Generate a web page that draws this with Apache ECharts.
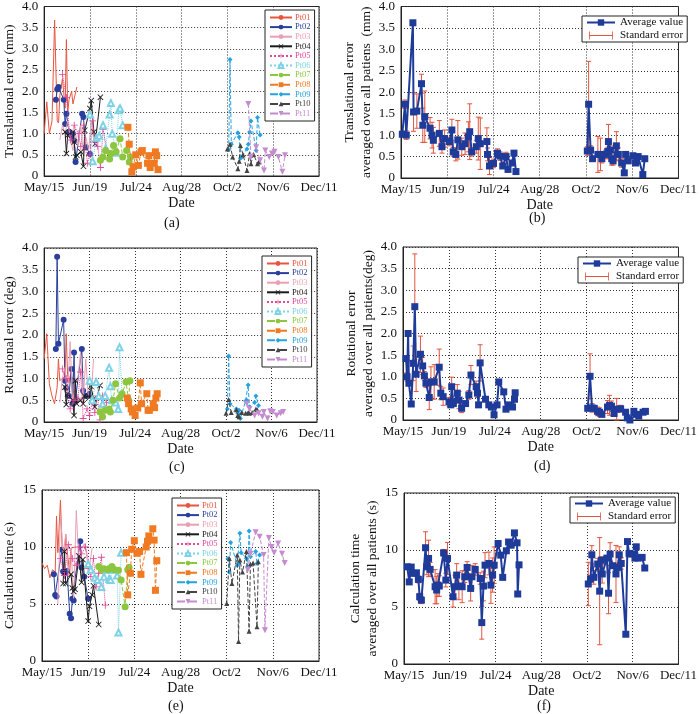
<!DOCTYPE html>
<html><head><meta charset="utf-8">
<script src="https://cdn.jsdelivr.net/npm/echarts/dist/echarts.min.js"></script>
<style>html,body{margin:0;padding:0;background:#fff}#c{width:700px;height:714px}</style>
</head><body><div id="c"></div>
<script>
const tickLabels = ['May/15','Jun/19','Jul/24','Aug/28','Oct/2','Nov/6','Dec/11'];
const ptNames = ['Pt01','Pt02','Pt03','Pt04','Pt05','Pt06','Pt07','Pt08','Pt09','Pt10','Pt11'];

// day offsets from May/15
const pt01Days = [0,2,4,6,8,10,11,12,14,16,17,18,19,21,22,25];
const pt01Trans = [1.0,1.75,1.0,1.3,3.68,1.3,1.25,1.9,2.3,1.6,3.22,1.5,1.8,2.0,1.7,2.1];
const pt01Rot = [1.45,2.03,0.88,0.6,0.42,0.8,1.45,0.95,1.0,1.05,2.03,1.1,0.9,1.2,0.6,1.0];
const pt01Time = [8.6,8.1,8.4,7.3,8.0,7.8,12.7,9.5,14.1,7.5,8.8,11.1,9.8,7.6,9.9,10.0];

const pt02Days = [9,10,11,15,16,17,19,21,22,23,24,29,30,32,35];
const pt02Trans = [1.8,2.05,2.1,1.8,1.23,1.47,1.04,0.95,1.0,0.84,0.33,1.47,1.39,0.68,0.52];
const pt02Rot = [1.68,3.8,1.8,2.35,0.95,0.78,0.6,1.22,0.42,1.6,0.5,1.68,0.72,0.6,0.65];
const pt02Time = [7.6,5.8,5.65,9.75,7.85,7.75,7.9,4.15,3.75,5.45,5.3,10.5,8.2,7.4,5.45];

const pt03Days = [12,14,16,18,20,22,24,26,28,30,32,34,36,38];
const pt03Trans = [0.85,1.2,1.0,1.3,0.9,0.6,1.0,0.7,1.2,0.5,0.9,0.6,1.3,0.8];
const pt03Rot = [0.45,1.0,1.25,0.6,1.85,0.4,0.9,1.0,1.6,0.45,1.45,0.6,0.5,1.45];
const pt03Time = [5.0,12.7,9.5,11.1,7.5,9.9,5.5,13.2,8.5,9.8,10.3,9.5,8.3,9.9];

const pt04Days = [16,17,18,22,23,24,25,28,30,31,35,36,38,39,43];
const pt04Trans = [1.04,0.53,0.96,1.04,0.8,0.45,0.49,0.57,0.23,1.08,1.59,1.78,1.04,0.76,1.86];
const pt04Rot = [0.8,0.4,0.65,0.5,0.15,0.95,0.42,0.5,0.42,0.6,0.57,0.82,0.53,0.35,0.84];
const pt04Time = [6.8,9.6,6.8,7.6,6.4,6.1,6.3,9.2,6.9,8.9,3.5,4.8,5.8,6.6,3.2];

const pt05Days = [14,17,20,23,26,28,30,33,35,37,39,41,43,45,48];
const pt05Trans = [2.4,1.85,0.85,1.2,1.0,0.7,1.2,0.3,0.5,1.3,0.8,0.7,0.2,1.1,0.6];
const pt05Rot = [1.22,1.0,0.3,0.5,0.55,1.15,0.08,0.3,0.15,0.45,0.22,0.6,0.05,0.6,0.45];
const pt05Time = [9.0,7.5,10.2,9.0,8.4,10.0,9.4,10.0,8.1,7.4,9.0,6.5,7.7,9.1,4.9];

const pt06Days = [35,37,40,42,45,47,50,51,52,55,57,58,60];
const pt06Trans = [1.45,0.35,0.9,0.95,1.2,0.65,1.45,1.72,1.0,0.55,1.55,1.6,1.2];
const pt06Rot = [0.95,0.5,0.92,0.6,0.42,0.6,1.25,0.82,0.5,0.45,0.3,1.72,0.65];
const pt06Time = [8.5,8.0,7.3,7.1,6.5,7.4,8.0,7.2,7.1,8.0,7.5,2.5,9.5];

const pt07Days = [43,45,47,50,51,53,55,58,60,63,65,66];
const pt07Trans = [0.37,0.45,0.6,0.4,0.53,0.72,0.57,0.88,0.45,0.6,0.33,0.45];
const pt07Rot = [0.23,0.12,0.27,0.3,0.23,0.5,0.88,0.55,0.65,0.92,0.5,0.95];
const pt07Time = [8.3,8.0,8.1,8.0,8.1,8.3,8.0,7.95,7.1,4.75,8.0,8.2];

const pt08Days = [64,65,67,68,70,72,74,75,79,80,81,84,85,86,87];
const pt08Trans = [1.15,0.75,0.1,0.22,0.5,0.25,0.57,0.6,0.3,0.48,0.2,0.3,0.57,0.48,0.15];
const pt08Rot = [0.55,0.42,0.3,0.23,0.15,0.32,0.9,0.42,0.65,0.27,0.27,0.42,0.33,0.55,0.65];
const pt08Time = [9.5,5.8,7.7,9.8,10.55,9.45,9.6,7.6,10.0,10.5,10.97,11.6,10.6,6.2,8.8];

const pt09Days = [141,142,143,148,149,150,151,155,156,157,158,162,163,165];
const pt09Trans = [0.62,2.75,0.75,1.02,0.92,0.42,0.45,0.64,0.75,1.04,1.3,0.6,1.38,0.97];
const pt09Rot = [0.3,1.52,0.42,0.3,0.2,0.27,0.08,0.48,0.5,0.85,0.35,0.45,0.6,0.38];
const pt09Time = [9.0,7.8,10.4,8.4,8.55,11.2,9.5,9.0,8.3,11.4,9.15,9.6,8.55,9.3];

const pt10Days = [140,142,144,148,149,150,152,155,157,158,160,163,164];
const pt10Trans = [0.64,0.75,0.45,0.17,0.35,0.72,0.5,0.13,0.53,0.29,0.51,0.29,0.33];
const pt10Rot = [0.2,0.52,0.22,0.28,0.15,0.12,0.22,0.2,0.22,0.2,0.22,0.3,0.28];
const pt10Time = [5.05,9.0,6.8,9.3,1.7,8.85,7.8,9.6,2.6,8.5,8.6,3.0,8.7];

const pt11Days = [156,158,162,165,168,169,172,174,176,179,182,184];
const pt11Trans = [1.7,0.45,0.68,0.37,0.13,0.6,0.45,0.53,0.57,0.45,0.1,0.49];
const pt11Rot = [0.42,0.3,0.15,0.2,0.12,0.23,0.08,0.25,0.23,0.15,0.2,0.23];
const pt11Time = [8.0,9.4,11.3,10.9,9.3,2.7,10.8,10.0,9.5,10.3,9.4,8.6];

// averages over all patients (two treatment periods)
const avgTransDays1 = [1,3,4,9,9.5,12,15.5,16.5,18,22,23.5,24.5,29,31,33,36.5,38.5,39.5,41.5,43,46,48.5,51,52,53.5,57,58.5,60,65,65.5,67,70,73,75,77,79.5,81,84,85.5,87];
const avgTrans1 = [1.02,1.72,1.0,3.62,1.54,1.56,2.2,1.23,1.43,1.16,1.0,0.88,1.04,0.73,0.92,0.85,1.12,0.61,0.55,0.89,0.73,0.8,0.96,1.08,0.61,0.73,0.92,0.8,0.85,0.55,0.28,0.34,0.58,0.51,0.28,0.5,0.2,0.35,0.58,0.15];
const seTrans1 = [0.05,0.1,0.1,0.05,0.45,0.4,0.22,0.4,0.6,0.25,0.3,0.3,0.3,0.15,0.2,0.1,0.25,0.1,0.15,0.45,0.2,0.25,0.35,0.65,0.1,0.15,0.5,0.6,0.32,0.15,0.2,0.1,0.1,0.1,0.05,0.1,0.05,0.05,0.05,0.05];
const avgTransDays2 = [141,142,143.5,145,149,151,152,155,156.5,157,158.5,159.5,160.5,163,164.5,167,169,170,172,175.5,177.5,179.5,183,184.5];
const avgTrans2 = [0.63,1.72,0.65,0.45,0.55,0.55,0.45,0.55,0.62,0.85,0.65,0.45,0.4,0.75,0.55,0.35,0.12,0.55,0.4,0.52,0.35,0.5,0.08,0.45];
const seTrans2 = [0.1,1.0,0.1,0.05,0.42,0.38,0.1,0.1,0.1,0.4,0.1,0.15,0.1,0.33,0.15,0.1,0.05,0.05,0.05,0.05,0.05,0.05,0.05,0.05];

const avgRotDays1 = [2.3,3.1,3.9,4.5,6.3,7.8,9,10,13.3,15,16.3,17.5,20,21.3,23.8,27.6,28.8,30.6,35.1,36.4,37.1,38.4,41.4,42.7,44.7,47.7,50.2,51.8,55.8,56.8,57.6,58.8,62.9,65.4,67.4,69.4,71.7,73,76.8,78.5,81,83.5,85,85.5];
const avgRot1 = [1.42,1.0,2.0,0.85,0.37,1.31,2.62,1.06,1.52,1.25,1.02,0.85,0.52,0.88,0.88,1.22,0.62,0.54,0.42,0.35,0.77,0.38,0.62,0.46,0.27,0.38,0.58,1.04,0.77,0.62,0.35,1.32,0.48,0.35,0.3,0.12,0.35,0.88,0.65,0.25,0.35,0.3,0.48,0.63];
const seRot1 = [0.05,0.1,0.05,0.05,0.05,0.4,1.22,0.4,0.42,0.2,0.1,0.1,0.28,0.35,0.4,0.42,0.15,0.2,0.1,0.05,0.22,0.05,0.2,0.2,0.1,0.05,0.1,0.22,0.13,0.1,0.05,0.42,0.05,0.05,0.05,0.05,0.05,0.05,0.05,0.05,0.05,0.05,0.05,0.05];
const avgRotDays2 = [140.8,142.6,144.1,145.8,148.3,149.8,151.6,155.9,157.4,158.9,160.9,162.9,165.9,169.7,171,173,176,178,179.7,183,184.8];
const avgRot2 = [0.27,1.01,0.28,0.27,0.2,0.18,0.13,0.3,0.34,0.32,0.15,0.25,0.26,0.18,0.05,0.0,0.2,0.13,0.09,0.18,0.2];
const seRot2 = [0.05,0.52,0.1,0.05,0.1,0.1,0.05,0.15,0.23,0.12,0.05,0.25,0.08,0.05,0.05,0.03,0.05,0.05,0.03,0.03,0.03];

const avgTimeDays1 = [2.5,4,5.5,6.5,9.5,11,12,13.3,16.5,17.5,18.8,20,23.8,25,26,27,30.3,32,33.3,37.5,39,40.3,42,44.5,46.5,48.3,51,52,54.5,58.3,59.5,60.8,62,65,66.5,67.8,69,72,74,75.5,78.3,80,82,84.5,86.5,87,88];
const avgTime1 = [8.53,7.2,8.5,7.95,8.0,7.42,5.9,5.6,10.2,8.53,9.26,8.3,6.78,6.49,6.92,6.84,9.75,7.36,9.26,5.9,6.78,7.8,6.84,6.78,7.65,8.47,6.63,7.65,8.3,7.5,3.63,6.84,8.67,8.82,6.92,7.8,8.67,10.57,9.55,7.6,9.93,10.7,10.42,11.5,10.63,6.14,8.7];
const seTime1 = [0.1,0.1,0.1,0.1,0.2,0.3,0.3,0.3,1.4,0.7,1.6,0.6,1.5,1.2,1.0,0.9,0.3,0.6,1.4,0.9,1.0,1.0,1.2,1.4,0.5,0.5,1.1,1.0,0.5,0.5,1.45,1.3,1.1,1.0,1.6,1.5,1.6,0.2,0.2,0.2,0.2,0.2,0.2,0.2,0.2,0.2,0.2];
const avgTimeDays2 = [141,142.7,143.7,145.2,148.2,149.7,151,151.7,155.2,156.5,157.7,159.7,162.2,163.5,164.7,166.2,169.7,171,172.2,174.2,176.7,177.7,179.2,182.2,184.2];
const avgTime2 = [7.02,7.46,9.58,7.6,8.77,6.39,9.11,7.9,9.29,6.21,9.64,8.62,7.9,8.48,9.58,8.82,2.61,10.74,9.7,9.64,9.29,10.28,9.29,9.35,8.42];
const seTime2 = [1.9,0.3,0.8,0.6,0.5,4.7,0.3,0.8,0.2,1.8,1.0,0.2,2.5,0.3,0.7,0.5,0.1,0.1,0.1,0.1,0.1,0.1,0.1,0.1,0.1];

// ---------- styles ----------
const FONT = '"Liberation Serif", "Times New Roman", serif';
const X_ICON = 'path://M0,1L1,0L5,4L9,0L10,1L6,5L10,9L9,10L5,6L1,10L0,9L4,5Z';
const PLUS_ICON = 'path://M4.4,0h1.2v4.4h4.4v1.2h-4.4v4.4h-1.2v-4.4h-4.4v-1.2h4.4z';
const DOWN_TRI = 'path://M0,0L10,0L5,9Z';
const ERR_ICON = 'path://M0,0h1v10h-1zM1,4.5h28v1h-28zM29,0h1v10h-1z';
const ptStyles = [
  {color:'#e8553f', type:'solid', symbol:'none', size:0},
  {color:'#2a3f9d', type:'solid', symbol:'circle', size:6},
  {color:'#eb9fb4', type:'solid', symbol:'none', size:0},
  {color:'#1a1a1a', type:'solid', symbol:X_ICON, size:6},
  {color:'#e0489a', type:'dotted', symbol:PLUS_ICON, size:7},
  {color:'#7fd2e6', type:'dotted', symbol:'emptyTriangle', size:6},
  {color:'#8cc63f', type:'dashed', symbol:'circle', size:7},
  {color:'#f07a22', type:'dashed', symbol:'rect', size:7},
  {color:'#27a2e0', type:'dashed', symbol:'diamond', size:5},
  {color:'#444444', type:'dashed', symbol:'triangle', size:5},
  {color:'#c58bd0', type:'dashed', symbol:DOWN_TRI, size:6}
];
const AVG_COLOR = '#1f3b9a', ERR_COLOR = '#e0553f';

const ptDays = [pt01Days,pt02Days,pt03Days,pt04Days,pt05Days,pt06Days,pt07Days,pt08Days,pt09Days,pt10Days,pt11Days];
const ptTrans = [pt01Trans,pt02Trans,pt03Trans,pt04Trans,pt05Trans,pt06Trans,pt07Trans,pt08Trans,pt09Trans,pt10Trans,pt11Trans];
const ptRot = [pt01Rot,pt02Rot,pt03Rot,pt04Rot,pt05Rot,pt06Rot,pt07Rot,pt08Rot,pt09Rot,pt10Rot,pt11Rot];
const ptTime = [pt01Time,pt02Time,pt03Time,pt04Time,pt05Time,pt06Time,pt07Time,pt08Time,pt09Time,pt10Time,pt11Time];

const grids = [
  {left:41, top:5, width:278, height:171},
  {left:401, top:6, width:278, height:172},
  {left:40, top:248, width:277, height:174},
  {left:403, top:247, width:279, height:173},
  {left:41, top:490, width:278, height:171},
  {left:404, top:493, width:279, height:171}
].map(g => Object.assign(g, {show:true, borderColor:'#222', borderWidth:1, containLabel:false}));

const yNames = [
  'Translational error (mm)',
  'Translational error\naveraged over all patiens  (mm)',
  'Rotational error (deg)',
  'Rotational error\naveraged over all patients(deg)',
  'Calculation time (s)',
  'Calculation time\naveraged over all patients (s)'
];

const xAxes = grids.map((g,i) => ({
  type:'value', gridIndex:i, min:0, max:210, interval:35,
  axisLine:{show:true, lineStyle:{color:'#222'}}, axisTick:{show:false},
  splitLine:{show:true, lineStyle:{type:[1,2], color:'#333', width:1}},
  axisLabel:{formatter:v=>tickLabels[Math.round(v/35)], fontFamily:FONT, fontSize:13, color:'#111', margin:5, hideOverlap:false, showMaxLabel:true, showMinLabel:true},
  name:'Date', nameLocation:'middle', nameGap:20,
  nameTextStyle:{fontFamily:FONT, fontSize:14, color:'#111'}
}));
const yAxes = grids.map((g,i) => {
  const isTime = i >= 4;
  const two = i % 2 === 1;
  return {
    type:'value', gridIndex:i, min:0, max:isTime?15:4, interval:isTime?5:0.5,
    axisLine:{show:true, lineStyle:{color:'#222'}}, axisTick:{show:false},
    splitLine:{show:true, lineStyle:{type:[1,2], color:'#333', width:1}},
    axisLabel:{formatter:v=> v===0 ? '0' : (isTime ? String(v) : v.toFixed(1)), fontFamily:FONT, fontSize:13, color:'#111', margin:6},
    name:yNames[i], nameLocation:'middle', nameGap: two ? 16 : 24, nameRotate:90,
    nameTextStyle:{fontFamily:FONT, fontSize:13.5, color:'#111', lineHeight:17, align:'center'}
  };
});

const series = [];
[[0,ptTrans],[2,ptRot],[4,ptTime]].forEach(([g,vals]) => {
  ptNames.forEach((n,i) => {
    const st = ptStyles[i];
    series.push({
      type:'line', name:n, xAxisIndex:g, yAxisIndex:g,
      data: ptDays[i].map((d,j)=>[d, vals[i][j]]),
      symbol: st.symbol, symbolSize: st.size, showSymbol: st.symbol !== 'none',
      lineStyle:{color:st.color, width:1, type:st.type},
      itemStyle:{color:st.color, borderColor:st.color, borderWidth: st.symbol==='emptyTriangle'?1:0},
      animation:false, z: 2 + i
    });
  });
});

function errBars(d1,v1,s1,d2,v2,s2) {
  return d1.map((d,j)=>[d, v1[j]-s1[j], v1[j]+s1[j]]).concat(d2.map((d,j)=>[d, v2[j]-s2[j], v2[j]+s2[j]]));
}
function avgLine(d1,v1,d2,v2) {
  return d1.map((d,j)=>[d,v1[j]]).concat([[115,'-']]).concat(d2.map((d,j)=>[d,v2[j]]));
}
const avgSets = [
  [1, avgTransDays1, avgTrans1, seTrans1, avgTransDays2, avgTrans2, seTrans2],
  [3, avgRotDays1, avgRot1, seRot1, avgRotDays2, avgRot2, seRot2],
  [5, avgTimeDays1, avgTime1, seTime1, avgTimeDays2, avgTime2, seTime2]
];
avgSets.forEach(([g,d1,v1,s1,d2,v2,s2]) => {
  series.push({
    type:'custom', name:'Standard error', xAxisIndex:g, yAxisIndex:g,
    itemStyle:{color:ERR_COLOR},
    data: errBars(d1,v1,s1,d2,v2,s2),
    renderItem: (params, api) => {
      const x = api.value(0);
      const lo = api.coord([x, Math.max(0, api.value(1))]);
      const hi = api.coord([x, api.value(2)]);
      const w = 2.5;
      const st = {stroke:ERR_COLOR, lineWidth:1};
      return {type:'group', children:[
        {type:'line', shape:{x1:lo[0], y1:lo[1], x2:hi[0], y2:hi[1]}, style:st},
        {type:'line', shape:{x1:hi[0]-w, y1:hi[1], x2:hi[0]+w, y2:hi[1]}, style:st},
        {type:'line', shape:{x1:lo[0]-w, y1:lo[1], x2:lo[0]+w, y2:lo[1]}, style:st}
      ]};
    },
    animation:false, z:2
  });
  series.push({
    type:'line', name:'Average value', xAxisIndex:g, yAxisIndex:g,
    data: avgLine(d1,v1,d2,v2), connectNulls:false,
    symbol:'rect', symbolSize:7, showSymbol:true,
    lineStyle:{color:AVG_COLOR, width:2}, itemStyle:{color:AVG_COLOR},
    animation:false, z:3
  });
});

const ptLegendData = ptNames.map((n,i)=>({name:n, textStyle:{color:ptStyles[i].color}}));
function ptLegend(left, top) {
  return {
    data: ptLegendData, orient:'vertical', left, top,
    itemWidth:22, itemHeight:6, itemGap:0.6, padding:[3,4,3,4],
    borderColor:'#222', borderWidth:1, backgroundColor:'#fff',
    textStyle:{fontFamily:FONT, fontSize:8.5, padding:[0,0,0,-2]}, selectedMode:false, z:10
  };
}
function avgLegend(left, top) {
  return {
    data:[{name:'Average value'},{name:'Standard error', icon:ERR_ICON, itemStyle:{color:ERR_COLOR}}],
    orient:'vertical', left, top, itemWidth:28, itemHeight:8, itemGap:2, padding:[1,4,1,4],
    borderColor:'#222', borderWidth:1, backgroundColor:'#fff',
    textStyle:{fontFamily:FONT, fontSize:11, color:'#111'}, selectedMode:false, z:10
  };
}

const captions = [['(a)',173,224],['(b)',538,219],['(c)',178,468],['(d)',543,467],['(e)',177,707],['(f)',546,707]];

const chart = echarts.init(document.getElementById('c'), null, {renderer:'canvas'});
chart.setOption({
  animation:false,
  backgroundColor:'#fff',
  grid: grids, xAxis: xAxes, yAxis: yAxes, series,
  legend: [ptLegend(265,10), avgLegend(582,16), ptLegend(262,256), avgLegend(578,257), ptLegend(172,498), avgLegend(570,497)],
  graphic: captions.map(([t,x,y]) => ({type:'text', left:x-9, top:y-8, style:{text:t, font:'14px ' + FONT, fill:'#111'}}))
});
</script></body></html>
